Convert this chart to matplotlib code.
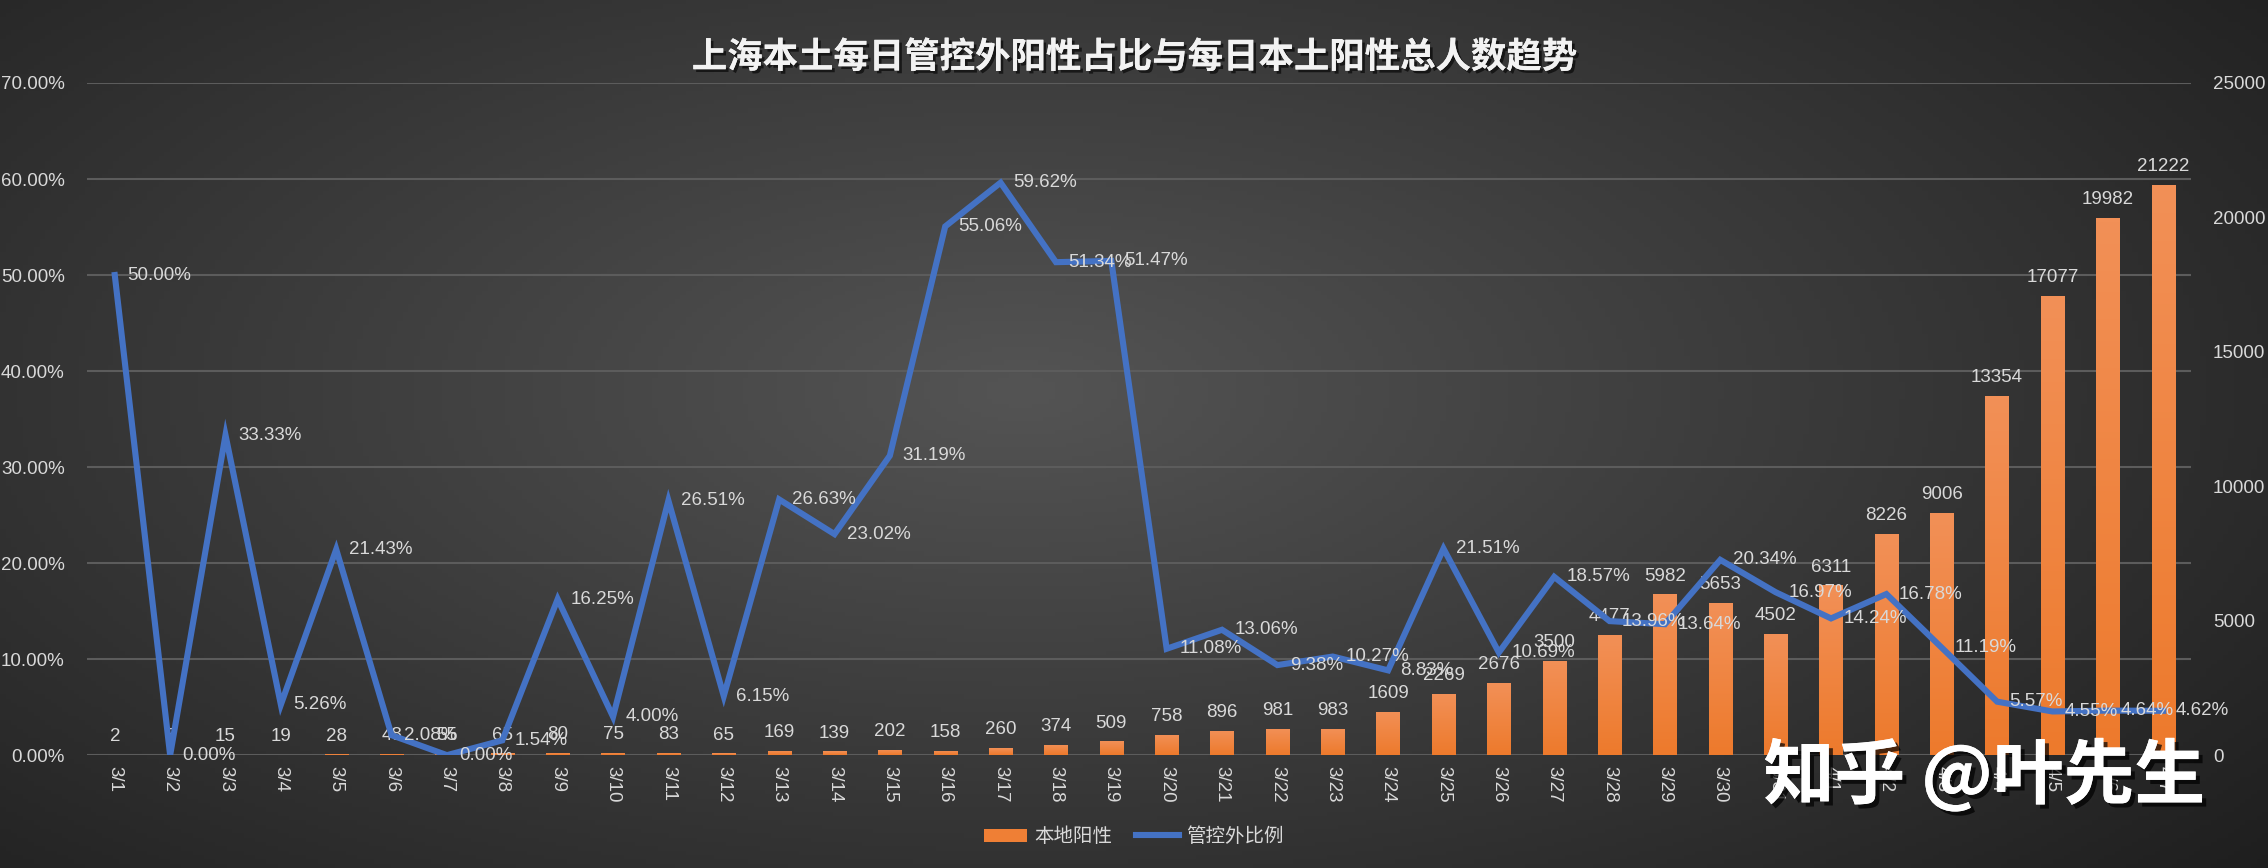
import matplotlib.pyplot as plt
import numpy as np
from matplotlib.patches import Patch
from matplotlib.lines import Line2D
from matplotlib.colors import LinearSegmentedColormap
import matplotlib.patheffects as pe

plt.rcParams['font.family'] = ['Noto Sans CJK SC', 'DejaVu Sans']

dates = ['3/%d' % d for d in range(1, 32)] + ['4/%d' % d for d in range(1, 8)]
local_pos = [2, 8, 15, 19, 28, 48, 55, 65, 80, 75, 83, 65, 169, 139, 202, 158,
             260, 374, 509, 758, 896, 981, 983, 1609, 2269, 2676, 3500, 4477,
             5982, 5653, 4502, 6311, 8226, 9006, 13354, 17077, 19982, 21222]
out_ratio = [50.00, 0.00, 33.33, 5.26, 21.43, 2.08, 0.00, 1.54, 16.25, 4.00,
             26.51, 6.15, 26.63, 23.02, 31.19, 55.06, 59.62, 51.34, 51.47,
             11.08, 13.06, 9.38, 10.27, 8.83, 21.51, 10.69, 18.57, 13.96,
             13.64, 20.34, 16.97, 14.24, 16.78, 11.19, 5.57, 4.55, 4.64, 4.62]
left_ticks = [0, 10, 20, 30, 40, 50, 60, 70]
right_ticks = [0, 5000, 10000, 15000, 20000, 25000]

txt_col = '#d9d9d9'
num_font = ['Liberation Sans Narrow', 'Liberation Sans', 'DejaVu Sans']
fs = 13.5

fig = plt.figure(figsize=(22.68, 8.68), dpi=100)

# dark radial background
bg = fig.add_axes([0, 0, 1, 1], zorder=-10)
gx, gy = np.meshgrid(np.linspace(0, 1, 400), np.linspace(0, 1, 200))
r = np.sqrt(((gx - 0.45) / 0.75) ** 2 + ((gy - 0.45) / 0.9) ** 2)
shade = np.clip(0.33 - 0.22 * r, 0.11, 0.33)
bg.imshow(np.dstack([shade] * 3), extent=[0, 1, 0, 1], aspect='auto', origin='upper')
bg.axis('off')

ax = fig.add_axes([0.0384, 0.130, 0.9276, 0.7744])
ax.patch.set_alpha(0)
x = np.arange(len(dates))

ax.set_ylim(0, 25000)
ax.set_xlim(-0.5, len(dates) - 0.5)
for v in left_ticks:
    ax.axhline(v / 70 * 25000, color='#5c5c5c', lw=1.5, zorder=0)

bars = ax.bar(x, local_pos, width=0.42, color='#ef7f35', zorder=2)
grad_cmap = LinearSegmentedColormap.from_list('og', ['#ed7a2c', '#f29057'])
grad = np.linspace(0, 1, 100).reshape(-1, 1)
for b in bars:
    im = ax.imshow(grad, cmap=grad_cmap, origin='lower', aspect='auto', zorder=2.1,
                   extent=[b.get_x(), b.get_x() + b.get_width(), 0, b.get_height()])
    im.set_clip_path(b)
ax.set_xlim(-0.5, len(dates) - 0.5)
ax.set_ylim(0, 25000)

for xi, v in zip(x, local_pos):
    ax.annotate(str(v), (xi, v), xytext=(0, 7), textcoords='offset points',
                ha='center', va='bottom', color=txt_col, fontsize=fs,
                family=num_font, zorder=3)

ax.set_xticks(x)
ax.set_xticklabels(dates, rotation=-90, family=num_font)
ax.tick_params(axis='x', length=0, colors=txt_col, labelsize=fs, pad=8)
for s in ax.spines.values():
    s.set_visible(False)

ax2 = ax.twinx()
ax2.set_ylim(0, 70)
ax2.plot(x, out_ratio, color='#4472c4', lw=4.4, solid_joinstyle='miter', zorder=4)
for xi, v in zip(x, out_ratio):
    ax2.annotate('%.2f%%' % v, (xi, v), xytext=(9, 0), textcoords='offset points',
                 ha='left', va='center', color=txt_col, fontsize=fs,
                 family=num_font, zorder=5)
for s in ax2.spines.values():
    s.set_visible(False)

# bars axis labels on the right, ratio axis labels on the left
ax.yaxis.tick_right()
ax.set_yticks(right_ticks)
ax.set_yticklabels([str(t) for t in right_ticks], family=num_font)
ax.tick_params(axis='y', length=0, colors=txt_col, labelsize=fs, pad=16)
ax2.yaxis.tick_left()
ax2.set_yticks(left_ticks)
ax2.set_yticklabels(['%.2f%%' % t for t in left_ticks], family=num_font)
ax2.tick_params(axis='y', length=0, colors=txt_col, labelsize=fs, pad=16)

fig.text(0.5, 0.934, '上海本土每日管控外阳性占比与每日本土阳性总人数趋势',
         ha='center', va='center', color='#f2f2f2', fontsize=25.5, fontweight='bold',
         path_effects=[pe.withSimplePatchShadow(offset=(2, -2), shadow_rgbFace='black', alpha=0.6), pe.Normal()])

handles = [Patch(facecolor='#ef7f35'), Line2D([0], [0], color='#4472c4', lw=4.4)]
fig.legend(handles, ['本地阳性', '管控外比例'], loc='center', bbox_to_anchor=(0.5, 0.036),
           ncol=2, frameon=False, fontsize=14, labelcolor=txt_col,
           handlelength=2.2, columnspacing=1.2, handletextpad=0.4)

fig.text(0.875, 0.106, '知乎 @叶先生', ha='center', va='center', color='white',
         fontsize=51, fontweight='bold', zorder=20,
         path_effects=[pe.withSimplePatchShadow(offset=(3, -3), shadow_rgbFace='black', alpha=0.7), pe.Normal()])

fig.savefig('out.png', dpi=100)
